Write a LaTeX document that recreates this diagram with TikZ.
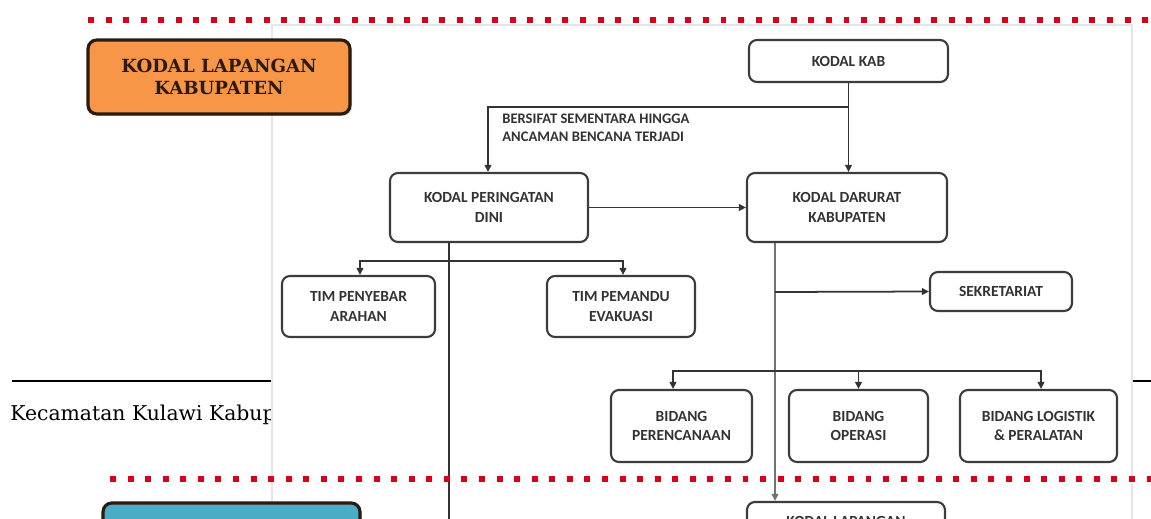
\documentclass[tikz,border=0pt]{standalone}
\usepackage{fontspec}
\usepackage{xcolor}
\newfontfamily\chartfont{Carlito}
\newfontfamily\pagefont{DejaVu Serif}
\usetikzlibrary{arrows.meta, positioning, shadows}

\definecolor{dotred}{HTML}{D9001B}
\definecolor{orgfill}{HTML}{F79646}
\definecolor{orgline}{HTML}{2B1A0E}
\definecolor{bluefill}{HTML}{4BACC6}
\definecolor{boxline}{HTML}{3C3C3C}
\definecolor{imgedge}{HTML}{E4E7EA}

\tikzset{
  unit/.style={rectangle, rounded corners=4.5pt, draw=boxline, line width=1.2pt, fill=white,
    align=center, inner sep=2pt, text=black!80,
    font=\chartfont\bfseries\fontsize{8.8}{11.3}\selectfont},
  note/.style={align=left, inner sep=0pt, text=black!80,
    font=\chartfont\bfseries\fontsize{8.3}{10.2}\selectfont},
  link/.style={draw=black!80, line width=1pt},
  arrow/.style={link, -{Triangle[length=4pt,width=3.8pt]}},
  dotline/.style={dotred, line width=3.4pt, dash pattern=on 3.4pt off 6.6pt},
  levelbox/.style={rectangle, rounded corners=5pt, draw=orgline, line width=1.8pt,
    align=center, text=orgline, font=\pagefont\bfseries\fontsize{10.3}{12.5}\selectfont,
    drop shadow={opacity=0.25, shadow xshift=1.2pt, shadow yshift=-1.2pt}}
}

\begin{document}
\begin{tikzpicture}[x=0.02cm, y=-0.02cm]
\useasboundingbox (0,0) rectangle (1151,518);
\clip (0,0) rectangle (1151,518);

% page underneath
\draw[black, line width=0.9pt] (12,381) -- (1151,381);
\node[anchor=base west, inner sep=0pt, font=\pagefont\fontsize{11.6}{13}\selectfont] (kaki) at (10,420) {Kecamatan Kulawi Kabup};

% pasted chart
\filldraw[fill=white, draw=imgedge, line width=0.6pt] (272,25) rectangle (1132,560);

\node[unit, minimum width=3.98cm, minimum height=0.84cm] (kab) at (848.5,61) {KODAL KAB};
\node[unit, minimum width=3.96cm, minimum height=1.38cm] (dini) at (489,207.5) {KODAL PERINGATAN\\DINI};
\node[unit, minimum width=4.0cm, minimum height=1.38cm] (darurat) at (847,207.5) {KODAL DARURAT\\KABUPATEN};
\node[note, anchor=north west] (sementara) at (502,114) {BERSIFAT SEMENTARA HINGGA\\ANCAMAN BENCANA TERJADI};

\node[unit, minimum width=3.06cm, minimum height=1.22cm] (penyebar) at (358.5,306.5) {TIM PENYEBAR\\ARAHAN};
\node[unit, minimum width=2.96cm, minimum height=1.22cm] (pemandu) at (621,306.5) {TIM PEMANDU\\EVAKUASI};
\node[unit, minimum width=2.84cm, minimum height=0.78cm] (sekretariat) at (1001,291.5) {SEKRETARIAT};

\node[unit, minimum width=2.82cm, minimum height=1.44cm] (perencanaan) at (681.5,426) {BIDANG\\PERENCANAAN};
\node[unit, minimum width=2.78cm, minimum height=1.44cm] (operasi) at (858.5,426) {BIDANG\\OPERASI};
\node[unit, minimum width=3.14cm, minimum height=1.44cm] (logistik) at (1038.5,426) {BIDANG LOGISTIK\\\& PERALATAN};

\node[unit, minimum width=3.96cm, minimum height=0.76cm] (lapangan) at (846,521) {KODAL LAPANGAN};

\coordinate (pisah) at (848.5,107);
\coordinate (timpisah) at (449,261);
\coordinate (sekpisah) at (775,292);
\coordinate (bidpisah) at (775,371);
\coordinate (diniakhir) at (449,540);

\draw[arrow] (kab.south) -- (kab.south |- darurat.north);
\draw[arrow] (pisah) -| ([xshift=-0.02cm]dini.north);
\draw[arrow] (dini.east) -- (darurat.west);
\draw[link] ([xshift=-0.8cm]dini.south) -- (diniakhir);
\draw[arrow] (timpisah) -| ([xshift=0.03cm]penyebar.north);
\draw[arrow] (timpisah) -| ([xshift=0.04cm]pemandu.north);
\draw[arrow, draw=black!55] ([xshift=-1.44cm]darurat.south) -- ([xshift=-1.42cm]lapangan.north);
\draw[arrow] (sekpisah) -- (sekretariat.west);
\draw[arrow] (bidpisah) -| ([xshift=-0.17cm]perencanaan.north);
\draw[arrow] (bidpisah) -| (operasi.north);
\draw[arrow] (bidpisah) -| ([xshift=0.05cm]logistik.north);

% level boxes
\node[levelbox, fill=orgfill, minimum width=5.24cm, minimum height=1.48cm] (kablevel) at (219,77) {KODAL LAPANGAN\\KABUPATEN};
\node[levelbox, fill=bluefill, minimum width=5.14cm, minimum height=1.48cm] (keclevel) at (231.5,540) {};

% red separators
\draw[dotline] (88,20) -- (1160,20);
\draw[dotline] (110,479) -- (1160,479);
\end{tikzpicture}
\end{document}
